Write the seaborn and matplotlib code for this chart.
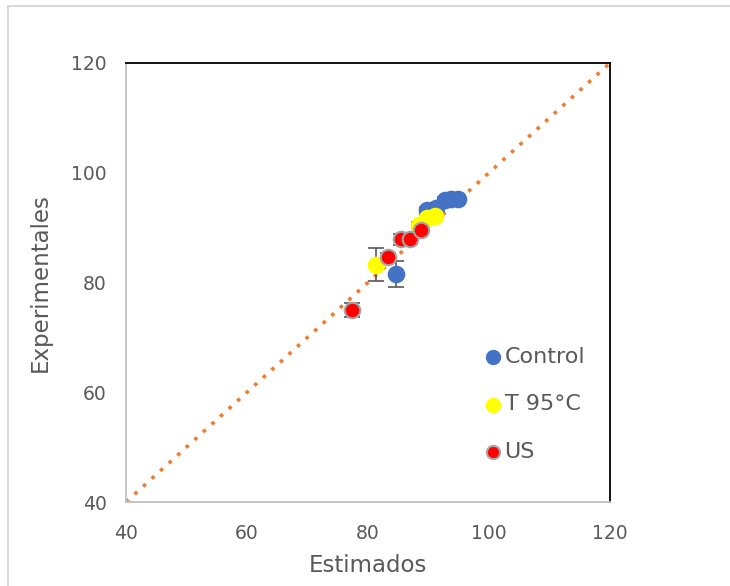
import pandas as pd
import matplotlib.pyplot as plt
import seaborn as sns
from matplotlib.patches import Rectangle

control_est = [84.7, 89.8, 91.2, 92.8, 93.8, 94.8]
control_exp = [81.5, 93.2, 93.6, 95.0, 95.2, 95.2]
control_err = [2.4, 0.5, 0.5, 0.5, 0.5, 0.5]

t95_est = [81.3, 88.5, 89.8, 91.0]
t95_exp = [83.2, 90.5, 91.8, 92.2]
t95_err = [3.0, 0.5, 0.5, 0.5]

us_est = [77.4, 83.3, 85.4, 86.9, 88.7]
us_exp = [75.0, 84.7, 87.9, 87.9, 89.6]
us_err = [1.2, 0.6, 1.0, 0.8, 0.6]

groups = ["Control", "T 95°C", "US"]
ticks = [40, 60, 80, 100, 120]

df = pd.concat([
    pd.DataFrame({"Estimados": control_est, "Experimentales": control_exp, "err": control_err, "grupo": groups[0]}),
    pd.DataFrame({"Estimados": t95_est, "Experimentales": t95_exp, "err": t95_err, "grupo": groups[1]}),
    pd.DataFrame({"Estimados": us_est, "Experimentales": us_exp, "err": us_err, "grupo": groups[2]}),
], ignore_index=True)

colors = {"Control": "#4472C4", "T 95°C": "#FFFF00", "US": "#FF0000"}
edges = {"Control": "#4472C4", "T 95°C": "#FFFF00", "US": "#A5A5A5"}

sns.set_style("white")
plt.rcParams['font.family'] = ['DejaVu Sans']
txt = "#595959"

fig = plt.figure(figsize=(7.3, 5.86), dpi=100)
ax = fig.add_axes([126 / 730, 1 - 502 / 586, 484 / 730, 439 / 586])

# outer chart-area frame
fig.patches.append(Rectangle((8 / 730, -0.1), 1.5, 1 - 6 / 586 + 0.1, transform=fig.transFigure,
                             fill=False, edgecolor="#D9D9D9", linewidth=1.5))

# 1:1 line
ax.plot(ticks, ticks, linestyle=(0, (1, 2.2)), color="#ED7D31", linewidth=2.6, zorder=1)

# error bars
ax.errorbar(df["Estimados"], df["Experimentales"], yerr=df["err"], fmt="none",
            ecolor="#595959", elinewidth=1.2, capsize=6, capthick=1.2, zorder=2)

for g in groups:
    sub = df[df["grupo"] == g]
    sns.scatterplot(data=sub, x="Estimados", y="Experimentales", ax=ax, s=125,
                    color=colors[g], edgecolor=edges[g], linewidth=1.5, label=g, zorder=3)

ax.set_xlim(40, 120)
ax.set_ylim(40, 120)
ax.set_xticks(ticks)
ax.set_yticks(ticks)
ax.tick_params(axis="x", labelsize=13.5, colors=txt, length=0, pad=16)
ax.tick_params(axis="y", labelsize=13.5, colors=txt, length=0, pad=14)
ax.set_xlabel("Estimados", fontsize=16.5, color=txt, labelpad=8)
ax.set_ylabel("Experimentales", fontsize=16.5, color=txt, labelpad=14)

for side in ["top", "right"]:
    ax.spines[side].set_color("black")
    ax.spines[side].set_linewidth(1.3)
for side in ["left", "bottom"]:
    ax.spines[side].set_color("#BFBFBF")
    ax.spines[side].set_linewidth(1.3)

leg = ax.legend(loc="lower right", bbox_to_anchor=(0.99, 0.045), frameon=False, fontsize=16,
                handletextpad=-0.5, labelspacing=1.25, markerscale=0.85, labelcolor=txt)

fig.savefig("out.png", dpi=100)
